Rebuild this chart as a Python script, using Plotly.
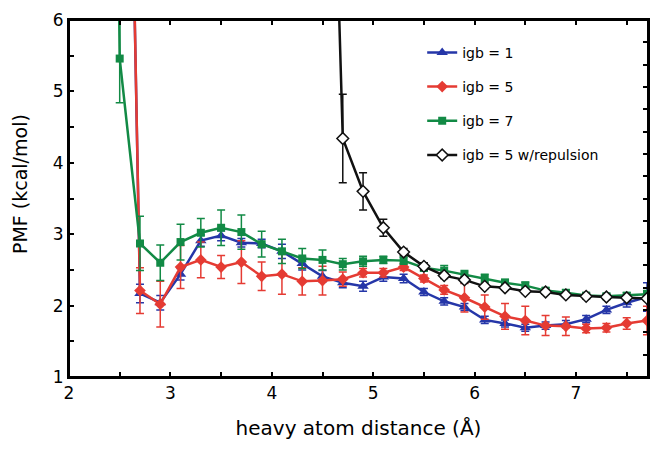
import plotly.graph_objects as go

# PMF vs heavy atom distance for different GB models
x_igb = [2.5, 2.7, 2.9, 3.1, 3.3, 3.5, 3.7, 3.9, 4.1, 4.3, 4.5, 4.7, 4.9, 5.1,
         5.3, 5.5, 5.7, 5.9, 6.1, 6.3, 6.5, 6.7, 6.9, 7.1, 7.3, 7.5, 7.7]

igb1 = [17.0, 2.17, 2.04, 2.44, 2.91, 2.98, 2.88, 2.87, 2.76, 2.59, 2.41, 2.32, 2.27, 2.40,
        2.38, 2.19, 2.06, 1.98, 1.80, 1.75, 1.69, 1.72, 1.74, 1.81, 1.94, 2.04, 2.12]
igb1_err = [0, 0.13, 0.10, 0.08, 0.08, 0.07, 0.06, 0.06, 0.10, 0.09, 0.08, 0.07, 0.07, 0.06,
            0.06, 0.05, 0.05, 0.05, 0.05, 0.05, 0.05, 0.05, 0.05, 0.05, 0.05, 0.06, 0.20]

igb5 = [17.0, 2.21, 2.02, 2.54, 2.64, 2.54, 2.61, 2.41, 2.44, 2.34, 2.35, 2.37, 2.46, 2.46,
        2.54, 2.38, 2.22, 2.11, 1.98, 1.85, 1.79, 1.72, 1.71, 1.68, 1.69, 1.75, 1.79]
igb5_err = [0, 0.32, 0.32, 0.30, 0.25, 0.16, 0.30, 0.20, 0.28, 0.19, 0.20, 0.10, 0.06, 0.06,
            0.05, 0.05, 0.06, 0.20, 0.17, 0.18, 0.20, 0.14, 0.13, 0.06, 0.06, 0.08, 0.20]

x_igb7 = [2.3, 2.5, 2.7, 2.9, 3.1, 3.3, 3.5, 3.7, 3.9, 4.1, 4.3, 4.5, 4.7, 4.9, 5.1,
          5.3, 5.5, 5.7, 5.9, 6.1, 6.3, 6.5, 6.7, 6.9, 7.1, 7.3, 7.5, 7.7]
igb7 = [30.0, 5.46, 2.87, 2.60, 2.89, 3.02, 3.09, 3.03, 2.86, 2.76, 2.66, 2.64, 2.58, 2.62, 2.64,
        2.63, 2.53, 2.49, 2.43, 2.38, 2.32, 2.28, 2.21, 2.18, 2.14, 2.13, 2.14, 2.16]
igb7_err = [0, 0.62, 0.38, 0.25, 0.25, 0.20, 0.25, 0.24, 0.18, 0.17, 0.14, 0.14, 0.08, 0.07, 0.05,
            0.05, 0.05, 0.07, 0.06, 0.06, 0.05, 0.05, 0.04, 0.04, 0.04, 0.04, 0.04, 0.05]

x_rep = [4.5, 4.7, 4.9, 5.1, 5.3, 5.5, 5.7, 5.9, 6.1, 6.3, 6.5, 6.7, 6.9, 7.1, 7.3, 7.5, 7.7]
igb5_rep = [14.0, 4.34, 3.60, 3.09, 2.75, 2.55, 2.42, 2.36, 2.27, 2.25, 2.20, 2.19, 2.15, 2.13,
            2.12, 2.11, 2.10]
igb5_rep_err = [0, 0.62, 0.26, 0.12, 0.05, 0.05, 0.04, 0.04, 0.03, 0.03, 0.03, 0.03, 0.03, 0.03,
                0.03, 0.03, 0.03]

# tick positions (every 0.5) and their labels (integers only)
x_tickvals = [2, 2.5, 3, 3.5, 4, 4.5, 5, 5.5, 6, 6.5, 7, 7.5]
x_ticktext = ["2", "", "3", "", "4", "", "5", "", "6", "", "7", ""]
y_tickvals = [1, 1.5, 2, 2.5, 3, 3.5, 4, 4.5, 5, 5.5, 6]
y_ticktext = ["1", "", "2", "", "3", "", "4", "", "5", "", "6"]

FONT = "DejaVu Sans"

series = [
    ("igb = 1", x_igb, igb1, igb1_err, "#2536A8", dict(symbol="triangle-up", size=10, color="#2536A8")),
    ("igb = 5", x_igb, igb5, igb5_err, "#E53B33", dict(symbol="diamond", size=9, color="#E53B33")),
    ("igb = 7", x_igb7, igb7, igb7_err, "#128A45", dict(symbol="square", size=8, color="#128A45")),
    ("igb = 5 w/repulsion", x_rep, igb5_rep, igb5_rep_err, "#111111",
     dict(symbol="diamond", size=9, color="white", line=dict(color="#111111", width=1.5))),
]

fig = go.Figure()
for i, (name, xs, ys, es, col, mk) in enumerate(series):
    fig.add_trace(go.Scatter(
        x=xs, y=ys, name=name, mode="lines+markers",
        line=dict(color=col, width=2.5),
        marker=mk,
        error_y=dict(type="data", array=es, visible=True, color=col, thickness=1.5, width=4),
        legendgroup=f"g{i}",
    ))

# empty trace so the top and right tick axes get drawn
fig.add_trace(go.Scatter(x=[None], y=[None], xaxis="x2", yaxis="y2",
                         showlegend=False, hoverinfo="skip"))

tick_font = dict(family=FONT, size=17, color="black")
title_font = dict(family=FONT, size=20, color="black")
frame = dict(ticks="inside", ticklen=5, tickwidth=1.5, tickcolor="black",
             showline=True, linecolor="black", linewidth=2,
             showgrid=False, zeroline=False)

fig.update_layout(
    width=658, height=452,
    margin=dict(l=69, r=10, t=20, b=75),
    paper_bgcolor="white", plot_bgcolor="white",
    font=dict(family=FONT, color="black"),
    showlegend=True,
    legend=dict(
        x=0.61, y=0.953, xanchor="left", yanchor="top",
        bgcolor="rgba(0,0,0,0)", font=dict(family=FONT, size=14, color="black"),
        traceorder="grouped", tracegroupgap=13,
    ),
    xaxis=dict(
        range=[2, 7.71], tickmode="array", tickvals=x_tickvals, ticktext=x_ticktext,
        tickfont=tick_font,
        title=dict(text="heavy atom distance (Å)", font=title_font, standoff=19),
        **frame,
    ),
    yaxis=dict(
        range=[1, 6], tickmode="array", tickvals=y_tickvals, ticktext=y_ticktext,
        tickfont=tick_font, ticksuffix="\u2002",
        **frame,
    ),
    xaxis2=dict(
        overlaying="x", side="top", anchor="y", range=[2, 7.71],
        tickmode="array", tickvals=x_tickvals, showticklabels=False,
        **frame,
    ),
    yaxis2=dict(
        overlaying="y", side="right", anchor="x", range=[0, 16], dtick=1,
        showticklabels=False,
        **frame,
    ),
    shapes=[dict(type="rect", xref="paper", yref="paper", x0=0, x1=1, y0=0, y1=1,
                 line=dict(color="black", width=2), layer="above")],
    annotations=[dict(
        text="PMF (kcal/mol)", textangle=-90, showarrow=False,
        xref="paper", yref="paper", x=-0.085, y=0.54,
        xanchor="center", yanchor="middle",
        font=dict(family=FONT, size=19, color="black"),
    )],
)

fig.write_html("out.html", config={"displayModeBar": False},
               post_script="document.body.style.margin='0';")
